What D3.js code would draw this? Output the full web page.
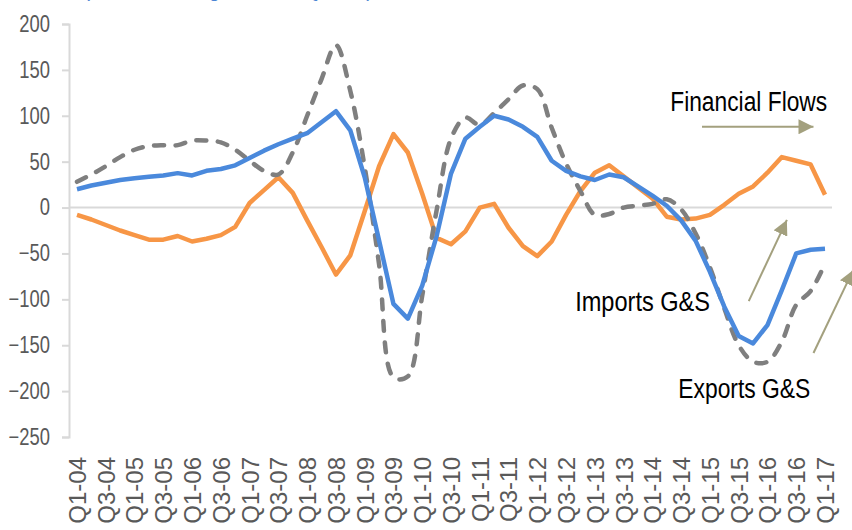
<!DOCTYPE html>
<html>
<head>
<meta charset="utf-8">
<script src="https://cdn.jsdelivr.net/npm/d3@7"></script>
<style>
  html, body { margin: 0; padding: 0; background: #ffffff; }
  svg { display: block; }
</style>
</head>
<body>
<svg id="chart" width="852" height="530"></svg>
<script>
// ---------- data ----------
const quarters = [];
for (let yr = 4; yr <= 17; yr++) {
  for (let q = 1; q <= 4; q++) {
    if (yr === 17 && q > 1) break;
    quarters.push("Q" + q + "-" + String(yr).padStart(2, "0"));
  }
}
const tickLabels = quarters.filter((d, i) => i % 2 === 0);
const yTicks = [200, 150, 100, 50, 0, -50, -100, -150, -200, -250];

const importsGS = [20, 24, 27, 30, 32, 33.5, 35, 37.5, 35, 40, 42, 46, 54, 62, 69, 75, 81, 93, 105, 84,
  33, -36, -105, -121, -85, -31, 37, 75, 88, 100, 96, 88, 77, 51, 40, 34, 30, 36, 33, 23,
  13, 2, -14, -36, -70, -108, -140, -148, -128, -90, -50, -46, -45];
const exportsGS = [28, 36, 45, 55, 63, 67, 68, 68, 73, 73, 71, 63, 51, 40, 36, 60, 100, 140, 177, 127,
  44, -62, -185, -184, -96, -3, 75, 98, 90, 103, 118, 133, 129, 87, 48, 18, -8, -7, 0, 2,
  4, 9, -2, -28, -65, -110, -150, -168, -168, -146, -106, -91, -61];
const financialFlows = [-8, -13, -19, -25, -30, -35, -35, -31, -37, -34, -30, -21, 5, 19, 33, 16, -14, -43, -73, -52,
  -4, 45, 80, 60, 15, -33, -40, -26, 0, 4, -22, -42, -53, -37, -8, 18, 38, 46, 34, 22,
  10, -10, -13, -12, -8, 3, 15, 23, 38, 55, 51, 47, 14];

const titleText = "(Annual change, $bn, 4Q sum)";
const labelNames = ["Financial Flows", "Imports G&S", "Exports G&S"];

// ---------- layout ----------
const svg = d3.select("#chart");
const axisColor = "#d9d9d9";
const labelColor = "#595959";
const arrowColor = "#a3a07e";
const narrowFont = "'Liberation Sans', Arial, sans-serif";

const x = d3.scalePoint().domain(quarters).range([77, 825]);
const xi = d3.scaleLinear().domain([0, quarters.length - 1]).range([77, 825]);
const y = d3.scaleLinear().domain([-250, 200]).range([437, 24]);

// title (cut off at top as in reference)
svg.append("text")
  .attr("transform", "translate(83,-4) scale(0.82,1)")
  .attr("font-family", narrowFont)
  .attr("font-size", 26)
  .attr("fill", "#4a86d4")
  .text(titleText);

// y axis
const yAxis = d3.axisLeft(y).tickValues(yTicks).tickSize(7).tickPadding(0);
const gy = svg.append("g").attr("transform", "translate(69,0)").call(yAxis);
gy.select(".domain").attr("stroke", axisColor).attr("stroke-width", 2);
gy.selectAll(".tick line").attr("stroke", axisColor).attr("stroke-width", 2);
gy.selectAll(".tick text")
  .attr("fill", labelColor)
  .attr("font-family", narrowFont)
  .attr("font-size", 23)
  .attr("x", null)
  .attr("transform", "translate(-19,0) scale(0.8,1)");

// zero line
svg.append("line")
  .attr("x1", 69).attr("x2", 832)
  .attr("y1", y(0)).attr("y2", y(0))
  .attr("stroke", axisColor).attr("stroke-width", 2);

// x labels
const xAxis = d3.axisBottom(x).tickValues(tickLabels).tickSize(0).tickPadding(0);
const gx = svg.append("g").attr("transform", "translate(0,457)").call(xAxis);
gx.select(".domain").remove();
gx.selectAll(".tick text")
  .attr("fill", labelColor)
  .attr("font-family", "'Liberation Sans', Arial, sans-serif")
  .attr("font-size", 24)
  .attr("transform", "rotate(-90)")
  .attr("text-anchor", "end")
  .attr("x", 0).attr("y", 0)
  .attr("dy", "0.35em");

// lines
const lineStraight = d3.line()
  .x((d, i) => x(quarters[i]))
  .y(d => y(d));
const lineSmooth = d3.line()
  .x((d, i) => x(quarters[i]))
  .y(d => y(d))
  .curve(d3.curveCatmullRom.alpha(0.5));

svg.append("path").datum(financialFlows)
  .attr("d", lineStraight)
  .attr("fill", "none").attr("stroke", "#f79646").attr("stroke-width", 4.5)
  .attr("stroke-linejoin", "round");

svg.append("path").datum(exportsGS)
  .attr("d", lineSmooth)
  .attr("fill", "none").attr("stroke", "#7f7f7f").attr("stroke-width", 4.5)
  .attr("stroke-linecap", "round")
  .attr("stroke-dasharray", "10,11.5");

svg.append("path").datum(importsGS)
  .attr("d", lineStraight)
  .attr("fill", "none").attr("stroke", "#4a89dc").attr("stroke-width", 4.5)
  .attr("stroke-linejoin", "round");

// annotations (positioned in data space)
const defs = svg.append("defs");
defs.append("marker")
  .attr("id", "arrowhead")
  .attr("viewBox", "0 0 10 10")
  .attr("refX", 10).attr("refY", 5)
  .attr("markerWidth", 7.5).attr("markerHeight", 7.5)
  .attr("markerUnits", "strokeWidth")
  .attr("orient", "auto")
  .append("path").attr("d", "M0,0 L10,5 L0,10 Z").attr("fill", arrowColor);

const arrows = [
  { i1: 43.45, v1: 88, i2: 51.2, v2: 88 },
  { i1: 46.7, v1: -102, i2: 49.35, v2: -13.5 },
  { i1: 51.2, v1: -158.5, i2: 53.96, v2: -68 }
];
svg.selectAll(".arrow").data(arrows).enter().append("line")
  .attr("class", "arrow")
  .attr("x1", d => xi(d.i1)).attr("y1", d => y(d.v1))
  .attr("x2", d => xi(d.i2)).attr("y2", d => y(d.v2))
  .attr("stroke", arrowColor).attr("stroke-width", 2)
  .attr("marker-end", "url(#arrowhead)");

const labels = [
  { name: labelNames[0], i: 41.24, v: 105, w: 157 },
  { name: labelNames[1], i: 34.63, v: -113, w: 135 },
  { name: labelNames[2], i: 41.8, v: -207, w: 132 }
];
svg.selectAll(".lbl").data(labels).enter().append("text")
  .attr("class", "lbl")
  .attr("font-family", narrowFont)
  .attr("font-size", 28)
  .attr("fill", "#000000")
  .text(d => d.name)
  .each(function (d) {
    const nat = this.getComputedTextLength();
    const s = d.w / nat;
    d3.select(this).attr("transform",
      "translate(" + xi(d.i) + "," + y(d.v) + ") scale(" + s.toFixed(3) + ",1)");
  });
</script>
</body>
</html>
